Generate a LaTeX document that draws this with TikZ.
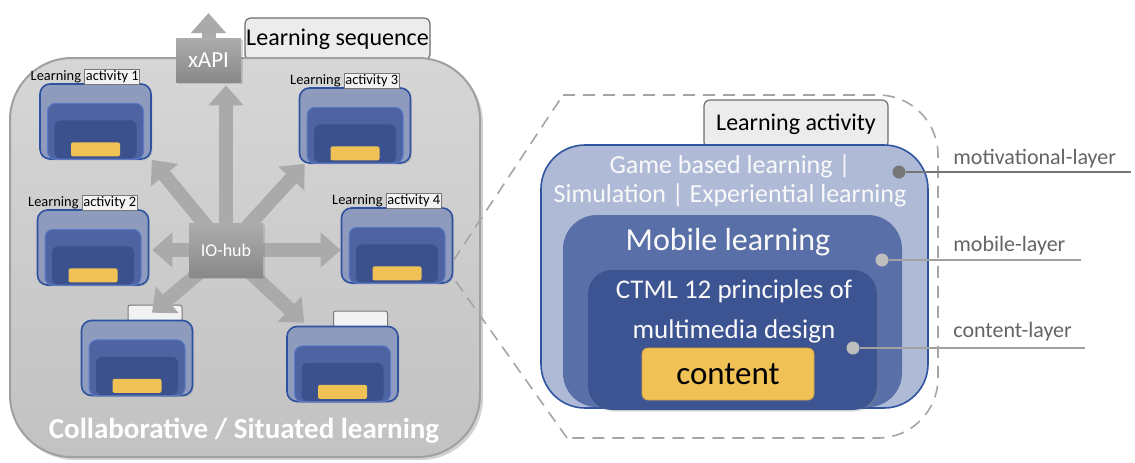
\documentclass[tikz,border=0pt]{standalone}
\usepackage{fontspec}
\setmainfont{Carlito}
\usetikzlibrary{arrows.meta, positioning, calc, shadows, backgrounds}
\usepackage{xcolor}
\definecolor{frametop}{RGB}{214,214,214}
\definecolor{framebottom}{RGB}{194,194,194}
\definecolor{frameline}{RGB}{160,160,160}
\definecolor{tabfill}{RGB}{236,236,236}
\definecolor{tabline}{RGB}{110,110,110}
\definecolor{hubgray}{RGB}{152,152,152}
\definecolor{arrowgray}{RGB}{170,170,170}
\definecolor{laoutercol}{RGB}{142,155,189}
\definecolor{lalinecol}{RGB}{47,82,160}
\definecolor{lamidcol}{RGB}{78,100,162}
\definecolor{lamidline}{RGB}{92,122,198}
\definecolor{ladarkcol}{RGB}{58,81,142}
\definecolor{layellow}{RGB}{240,193,85}
\definecolor{laboxfill}{RGB}{242,242,242}
\definecolor{laboxline}{RGB}{120,120,120}
\definecolor{motcol}{RGB}{174,186,214}
\definecolor{motline}{RGB}{47,85,160}
\definecolor{mobcol}{RGB}{89,111,167}
\definecolor{ctmlcol}{RGB}{61,84,146}
\definecolor{dotdark}{RGB}{118,118,118}
\definecolor{dotlight}{RGB}{190,190,190}
\definecolor{labelgray}{RGB}{100,100,100}
\definecolor{dashgray}{RGB}{165,165,165}
\setlength{\fboxsep}{0.4pt}
\setlength{\fboxrule}{0.4pt}

\begin{document}
\begin{tikzpicture}[
    x=0.5pt, y=-0.5pt,
    every node/.style={inner sep=0pt},
    framebox/.style={draw=frameline, line width=1pt, top color=frametop,
        bottom color=framebottom, rounded corners=31pt,
        drop shadow={opacity=0.35, shadow xshift=1.5pt, shadow yshift=-1.5pt}},
    tabbox/.style={draw=tabline, fill=tabfill, line width=0.6pt, rounded corners=3pt,
        font=\fontsize{12}{14}\selectfont},
    hubbox/.style={top color=hubgray!80!white, bottom color=hubgray!90!black,
        text=white, drop shadow={opacity=0.3, shadow xshift=1pt, shadow yshift=-1pt}},
    hubarrow/.style={line width=7pt, arrowgray, -{Triangle[width=17pt, length=10pt]}},
    laouter/.style={draw=lalinecol, fill=laoutercol, line width=0.8pt, rounded corners=5pt,
        minimum width=55.5pt, minimum height=37.5pt,
        drop shadow={opacity=0.2, shadow xshift=0.8pt, shadow yshift=-0.8pt}},
    lamid/.style={draw=lamidline, fill=lamidcol, line width=0.5pt, rounded corners=4pt,
        minimum width=48pt, minimum height=28pt, anchor=south},
    ladark/.style={fill=ladarkcol, rounded corners=3pt, minimum width=41pt,
        minimum height=19pt, anchor=south},
    layel/.style={fill=layellow, rounded corners=1pt, minimum width=24.5pt,
        minimum height=7pt, anchor=south},
    latab/.style={draw=laboxline, fill=laboxfill, line width=0.5pt, rounded corners=1pt,
        minimum width=27pt, minimum height=9pt, anchor=south},
    actlabel/.style={font=\fontsize{7.2}{8}\selectfont},
    zoomline/.style={dashgray, line width=0.8pt, dash pattern=on 6pt off 4pt},
    layerbox/.style={rounded corners=#1},
    layertext/.style={text=white!95!gray, align=center},
    dotnode/.style={circle, minimum size=6.5pt},
    leader/.style={line width=1pt},
    layerlabel/.style={anchor=south west, text=labelgray, font=\fontsize{11}{13}\selectfont},
]
\useasboundingbox (0,0) rectangle (1135,462);

% === LEARNING ACTIVITY BLOCKS ===
\foreach \name/\px/\py in {la1/95.5/121.5, la2/93/247.5, la3/355/125.5,
    la4/397/245.5, la5/137/358, la6/342.5/364} {
  \node[laouter] (\name) at (\px,\py) {};
  \node[lamid] (\name mid) at (\name.south) {};
  \node[ladark] (\name dark) at ($(\name.south)+(0,-1)$) {};
  \node[layel] (\name yel) at ($(\name.south)+(0,-3)$) {};
}
\foreach \name/\num in {la1/1, la2/2, la3/3, la4/4}
  \node[actlabel, above=-0.8pt of \name, xshift=-5pt] (\name lbl)
    {Learning \fcolorbox{laboxline}{laboxfill}{activity \num}};

% === HUBS ===
\node[hubbox, minimum width=37pt, minimum height=27pt,
      font=\fontsize{9}{11}\selectfont] (hub) at (226,250) {IO-hub};
\node[hubbox, minimum width=32.5pt, minimum height=22pt,
      font=\fontsize{11.5}{13}\selectfont] (xapi) at (208.5,60) {xAPI};
\coordinate (xapiout) at (208.5,13);

\begin{scope}[on background layer]
  \node[tabbox, minimum width=92.5pt, minimum height=21pt] (seqtab) at (337.5,39)
    {Learning sequence};
  \draw[framebox] (10,58) rectangle (480,457);
  \node[text=white, font=\fontsize{14.5}{16}\selectfont\bfseries] (collab) at (244,431)
    {Collaborative / Situated learning};
  \node[latab, xshift=9pt] (la5tab) at ($(la5.north)+(0,4)$) {};
  \node[latab, xshift=9pt] (la6tab) at ($(la6.north)+(0,4)$) {};
  % arrows out of the hub
  \draw[hubarrow] (xapi.center) -- (xapiout);
  \draw[hubarrow, shorten >=1.5pt] (hub.center) -- (hub.north |- xapi.south);
  \draw[hubarrow] (hub.center) -- (la1.south east);
  \draw[hubarrow] (hub.center) -- ($(la3.south west)+(6,0)$);
  \draw[hubarrow, shorten >=1.5pt] (hub.center) -- (hub.center -| la2.east);
  \draw[hubarrow] (hub.center) -- (hub.center -| la4.west);
  \draw[hubarrow] (hub.center) -- ($(la5.north)+(15,-7)$);
  \draw[hubarrow] (hub.center) -- ($(la6.north west)+(18,-3)$);
\end{scope}

% === ZOOMED LEARNING ACTIVITY ===
\node[tabbox, minimum width=92pt, minimum height=24pt] (acttab) at (796,124)
  {Learning activity};
\node[layerbox=22pt, draw=motline, fill=motcol, line width=0.8pt,
      minimum width=193.5pt, minimum height=131.5pt] (motlayer) at (734.5,276.5) {};
\node[layerbox=17pt, fill=mobcol, minimum width=169.5pt, minimum height=96pt]
  (moblayer) at (732.5,311) {};
\node[layerbox=12pt, fill=ctmlcol, minimum width=144.5pt, minimum height=70pt,
      drop shadow={opacity=0.25, shadow xshift=0.8pt, shadow yshift=-0.8pt}]
  (ctmllayer) at (732.5,340) {};
\node[layerbox=3pt, fill=layellow, draw=layellow!85!black, line width=0.4pt,
      minimum width=86pt, minimum height=26pt, font=\fontsize{16.5}{19}\selectfont]
  (content) at (728,374) {content};

\node[layertext, font=\fontsize{13}{14.5}\selectfont] (mottext) at (730,181)
  {Game based learning |\\Simulation | Experiential learning};
\node[layertext, font=\fontsize{16}{18}\selectfont] (mobtext) at (728,242)
  {Mobile learning};
\node[layertext, font=\fontsize{13.5}{20}\selectfont] (ctmltext) at (734,311)
  {CTML 12 principles of\\multimedia design};

% dashed zoom outline
\draw[zoomline] ($(la4.east)+(0,15)$) -- (563,95);
\draw[zoomline, rounded corners=30pt] (563,95) -- (938,95) -- (938,438) -- (567,438);
\draw[zoomline] (567,438) -- ($(la4.south east)+(0,-6)$);

% === LAYER LABELS ===
\node[dotnode, fill=dotdark] (motdot) at (899,172) {};
\node[dotnode, fill=dotlight] (mobdot) at (882,260) {};
\node[dotnode, fill=dotlight] (ctmldot) at (853,348) {};
\coordinate (motend) at (1131,172);
\coordinate (mobend) at (1081,260);
\coordinate (ctmlend) at (1085,348);
\draw[leader, dotdark] (motdot) -- (motend);
\draw[leader, dotlight!85!black] (mobdot) -- (mobend);
\draw[leader, dotlight!85!black] (ctmldot) -- (ctmlend);
\node[layerlabel] (motlbl) at (953,168) {motivational-layer};
\node[layerlabel] (moblbl) at (953,255) {mobile-layer};
\node[layerlabel] (ctmllbl) at (953,341) {content-layer};

\end{tikzpicture}
\end{document}
